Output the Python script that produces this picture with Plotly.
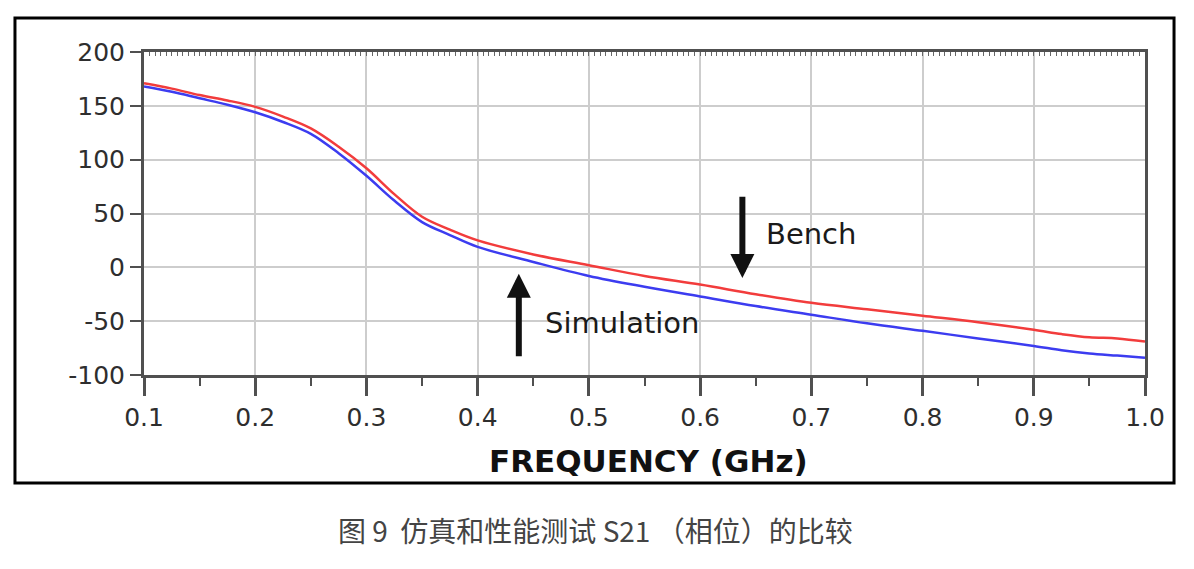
import plotly.graph_objects as go

# S21 phase
freq = [0.1, 0.125, 0.15, 0.175, 0.2, 0.225, 0.25, 0.275, 0.3, 0.325, 0.35,
        0.375, 0.4, 0.45, 0.5, 0.55, 0.6, 0.65, 0.7, 0.75, 0.8, 0.85, 0.9,
        0.925, 0.95, 0.975, 1.0]
bench = [171, 166, 160, 155, 149, 140, 129, 112, 92, 68, 47, 35, 25, 12, 2,
         -8, -16, -25, -33, -39, -45, -51, -58, -62, -65, -66, -69]
simulation = [168, 163, 157, 151, 144, 135, 124, 106, 85, 62, 42, 30, 19, 5,
              -8, -18, -27, -36, -44, -52, -59, -66, -73, -77, -80, -82, -84]

x_ticks = [0.1, 0.2, 0.3, 0.4, 0.5, 0.6, 0.7, 0.8, 0.9, 1.0]
y_ticks = [-100, -50, 0, 50, 100, 150, 200]
x_labels = ["0.1", "0.2", "0.3", "0.4", "0.5", "0.6", "0.7", "0.8", "0.9", "1.0"]
y_labels = ["-100", "-50", "0", "50", "100", "150", "200"]

tick_font = dict(family="DejaVu Sans", size=25, color="#2e2e2e")
axis_col = "#505050"
grid_col = "#cdcdcd"

fig = go.Figure()
fig.add_trace(go.Scatter(x=freq, y=bench, mode="lines", name="Bench",
                         line=dict(color="#f23c3c", width=2.5, shape="spline")))
fig.add_trace(go.Scatter(x=freq, y=simulation, mode="lines", name="Simulation",
                         line=dict(color="#3c3cf0", width=2.5, shape="spline")))
# dummy trace so the hatched top axis gets drawn
fig.add_trace(go.Scatter(x=[0.1, 1.0], y=[None, None], xaxis="x2",
                         showlegend=False, hoverinfo="skip"))

# page body adds 8px, so margins are shifted by that
fig.update_layout(
    width=1194,
    height=569,
    margin=dict(l=136, r=57, t=44, b=202),
    paper_bgcolor="white",
    plot_bgcolor="white",
    showlegend=False,
    xaxis=dict(
        range=[0.1, 1.0],
        tickvals=x_ticks,
        ticktext=x_labels,
        tickfont=tick_font,
        ticks="outside", ticklen=18, tickwidth=3, tickcolor=axis_col,
        minor=dict(dtick=0.05, tick0=0.1, ticks="outside", ticklen=8,
                   tickwidth=2, tickcolor=axis_col, showgrid=False),
        showline=True, linecolor=axis_col, linewidth=3, mirror=True,
        showgrid=True, gridcolor=grid_col, gridwidth=2,
        zeroline=False,
    ),
    xaxis2=dict(
        range=[0.1, 1.0], overlaying="x", side="top", anchor="y",
        dtick=0.005, tick0=0.1, ticks="inside", ticklen=4, tickwidth=1,
        tickcolor="#666666", showticklabels=False, showgrid=False,
        showline=False, zeroline=False,
    ),
    yaxis=dict(
        range=[-100, 200],
        tickvals=y_ticks,
        ticktext=y_labels,
        tickfont=tick_font,
        ticks="outside", ticklen=11, tickwidth=2, tickcolor=axis_col,
        showline=True, linecolor=axis_col, linewidth=3, mirror=True,
        showgrid=True, gridcolor=grid_col, gridwidth=2,
        zeroline=False,
    ),
)

label_font = dict(family="DejaVu Sans", size=29, color="#1a1a1a")

# arrows pointing at each curve
fig.add_annotation(x=0.638, y=-10, ax=0.638, ay=67, xref="x", yref="y",
                   axref="x", ayref="y", text="", showarrow=True,
                   arrowhead=2, arrowsize=0.8, arrowwidth=6, arrowcolor="#111111")
fig.add_annotation(x=0.437, y=-6, ax=0.437, ay=-84, xref="x", yref="y",
                   axref="x", ayref="y", text="", showarrow=True,
                   arrowhead=2, arrowsize=0.8, arrowwidth=6, arrowcolor="#111111")
fig.add_annotation(x=0.657, y=31, xref="x", yref="y", text="Bench",
                   showarrow=False, xanchor="left", yanchor="middle",
                   font=label_font)
fig.add_annotation(x=0.459, y=-52, xref="x", yref="y", text="Simulation",
                   showarrow=False, xanchor="left", yanchor="middle",
                   font=label_font)

# axis title
fig.add_annotation(x=0.5035, y=-0.266, xref="paper", yref="paper",
                   text="<b>FREQUENCY (GHz)</b>", showarrow=False,
                   xanchor="center", yanchor="middle",
                   font=dict(family="DejaVu Sans", size=31, color="#111111"))

# figure caption
fig.add_annotation(x=0.4515, y=-0.48, xref="paper", yref="paper",
                   text="图 9  仿真和性能测试 S21 （相位）的比较", showarrow=False,
                   xanchor="center", yanchor="middle",
                   font=dict(family="Noto Sans CJK SC", size=28, color="#444444"))

# black frame around the chart
fig.add_shape(type="rect", xref="paper", yref="paper",
              x0=-0.1289, x1=1.029, y0=-0.334, y1=1.105,
              line=dict(color="black", width=3), layer="below")

fig.write_html("out.html")
